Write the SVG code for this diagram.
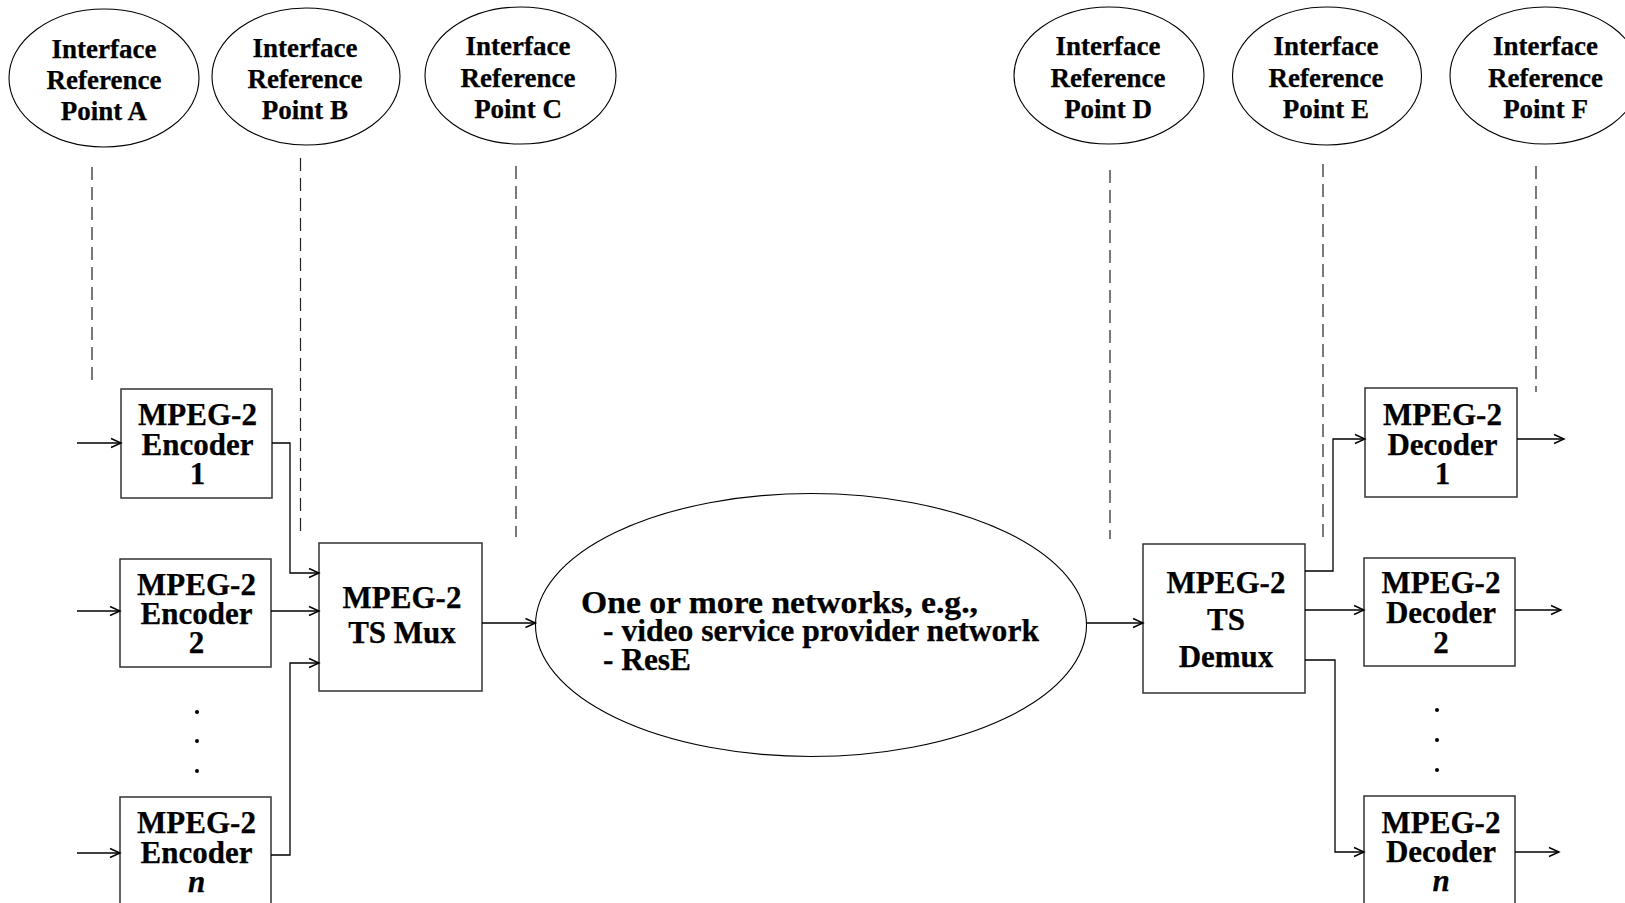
<svg xmlns="http://www.w3.org/2000/svg" width="1625" height="903" viewBox="0 0 1625 903">
  <style>
    text { font-family: "Liberation Serif", "Times New Roman", serif; font-weight: bold; fill: #000; stroke: #000; stroke-width: 0.25; }
    .ref { font-size: 27px; text-anchor: middle; }
    .blk { font-size: 31px; text-anchor: middle; }
    .net { font-size: 31px; }
    .oval { fill: #fff; stroke: #000; stroke-width: 1.1; }
    .box { fill: #fff; stroke: #333; stroke-width: 1.5; }
    .guide { fill: none; stroke: #222; stroke-width: 1.2; stroke-dasharray: 13 7; }
    .arrow { fill: none; stroke: #000; stroke-width: 1.3; marker-end: url(#head); }
    .dot { fill: #000; }
    .it { font-style: italic; }
  </style>
  <defs>
    <marker id="head" markerUnits="userSpaceOnUse" markerWidth="14" markerHeight="12" viewBox="0 0 14 12" refX="12" refY="6" orient="auto">
      <path d="M2,1.5 L12,6 L2,10.5" fill="none" stroke="#000" stroke-width="1.4"/>
    </marker>
  </defs>
  <rect width="1625" height="903" fill="#fff"/>

  <!-- interface reference points -->
  <g id="ref-a">
    <ellipse class="oval" cx="104" cy="78" rx="95" ry="69"/>
    <text class="ref" x="104" y="58">Interface</text>
    <text class="ref" x="104" y="89">Reference</text>
    <text class="ref" x="104" y="120">Point A</text>
  </g>
  <g id="ref-b">
    <ellipse class="oval" cx="306" cy="76.5" rx="94" ry="68.5"/>
    <text class="ref" x="305" y="57">Interface</text>
    <text class="ref" x="305" y="87.5">Reference</text>
    <text class="ref" x="305" y="118.5">Point B</text>
  </g>
  <g id="ref-c">
    <ellipse class="oval" cx="520.5" cy="75.5" rx="95.5" ry="68.5"/>
    <text class="ref" x="518" y="55">Interface</text>
    <text class="ref" x="518" y="86.5">Reference</text>
    <text class="ref" x="518" y="118">Point C</text>
  </g>
  <g id="ref-d">
    <ellipse class="oval" cx="1109" cy="75.5" rx="95" ry="68.5"/>
    <text class="ref" x="1108" y="55">Interface</text>
    <text class="ref" x="1108" y="86.5">Reference</text>
    <text class="ref" x="1108" y="118">Point D</text>
  </g>
  <g id="ref-e">
    <ellipse class="oval" cx="1327" cy="76" rx="94.5" ry="69"/>
    <text class="ref" x="1326" y="55">Interface</text>
    <text class="ref" x="1326" y="86.5">Reference</text>
    <text class="ref" x="1326" y="118">Point E</text>
  </g>
  <g id="ref-f">
    <ellipse class="oval" cx="1545" cy="75.5" rx="95" ry="68.5"/>
    <text class="ref" x="1545.5" y="55">Interface</text>
    <text class="ref" x="1545.5" y="86.5">Reference</text>
    <text class="ref" x="1545.5" y="118">Point F</text>
  </g>

  <!-- encoders -->
  <g id="enc-1">
    <rect class="box" x="121" y="389" width="151" height="109"/>
    <text class="blk" x="197.5" y="425">MPEG-2</text>
    <text class="blk" x="197.5" y="455">Encoder</text>
    <text class="blk" x="197.5" y="484">1</text>
  </g>
  <g id="enc-2">
    <rect class="box" x="120" y="559" width="151" height="108"/>
    <text class="blk" x="196.5" y="595">MPEG-2</text>
    <text class="blk" x="196.5" y="624">Encoder</text>
    <text class="blk" x="196.5" y="653">2</text>
  </g>
  <g id="enc-dots">
    <circle class="dot" cx="197" cy="712" r="2"/>
    <circle class="dot" cx="197" cy="741" r="2"/>
    <circle class="dot" cx="197" cy="771" r="2"/>
  </g>
  <g id="enc-n">
    <rect class="box" x="120" y="797" width="151" height="120"/>
    <text class="blk" x="196.5" y="833">MPEG-2</text>
    <text class="blk" x="196.5" y="863">Encoder</text>
    <text class="blk it" x="196.5" y="892">n</text>
  </g>

  <!-- multiplexer -->
  <g id="ts-mux">
    <rect class="box" x="319" y="543" width="163" height="148"/>
    <text class="blk" x="402" y="608">MPEG-2</text>
    <text class="blk" x="402" y="643">TS Mux</text>
  </g>

  <!-- network cloud -->
  <g id="network">
    <ellipse class="oval" cx="811" cy="625" rx="275.5" ry="131.5"/>
    <text class="net" x="581" y="613" textLength="397" lengthAdjust="spacingAndGlyphs">One or more networks, e.g.,</text>
    <text class="net" x="603" y="641" textLength="436" lengthAdjust="spacingAndGlyphs">- video service provider network</text>
    <text class="net" x="603" y="670" textLength="88" lengthAdjust="spacingAndGlyphs">- ResE</text>
  </g>

  <!-- demultiplexer -->
  <g id="ts-demux">
    <rect class="box" x="1143" y="544" width="162" height="149"/>
    <text class="blk" x="1226" y="593">MPEG-2</text>
    <text class="blk" x="1226" y="630">TS</text>
    <text class="blk" x="1226" y="667">Demux</text>
  </g>

  <!-- decoders -->
  <g id="dec-1">
    <rect class="box" x="1365" y="388" width="152" height="109"/>
    <text class="blk" x="1442.5" y="425">MPEG-2</text>
    <text class="blk" x="1442.5" y="455">Decoder</text>
    <text class="blk" x="1442.5" y="484">1</text>
  </g>
  <g id="dec-2">
    <rect class="box" x="1364" y="558" width="151" height="108"/>
    <text class="blk" x="1441" y="593">MPEG-2</text>
    <text class="blk" x="1441" y="623">Decoder</text>
    <text class="blk" x="1441" y="653">2</text>
  </g>
  <g id="dec-dots">
    <circle class="dot" cx="1437" cy="710" r="2"/>
    <circle class="dot" cx="1437" cy="740" r="2"/>
    <circle class="dot" cx="1437" cy="770" r="2"/>
  </g>
  <g id="dec-n">
    <rect class="box" x="1364" y="796" width="151" height="120"/>
    <text class="blk" x="1441" y="833">MPEG-2</text>
    <text class="blk" x="1441" y="862">Decoder</text>
    <text class="blk it" x="1441" y="891">n</text>
  </g>

  <!-- reference point guides and signal paths -->
  <g id="connectors">
    <line class="guide" x1="92" y1="167" x2="92" y2="386"/>
    <line class="guide" x1="300.5" y1="158" x2="300.5" y2="538"/>
    <line class="guide" x1="516" y1="166" x2="516" y2="537"/>
    <line class="guide" x1="1110" y1="170" x2="1110" y2="539"/>
    <line class="guide" x1="1323" y1="164" x2="1323" y2="541"/>
    <line class="guide" x1="1536" y1="166" x2="1536" y2="392"/>

    <path class="arrow" d="M77,443 H121"/>
    <path class="arrow" d="M77,611 H120"/>
    <path class="arrow" d="M77,853 H120"/>

    <path class="arrow" d="M272,443 H290 V573 H319"/>
    <path class="arrow" d="M271,611 H319"/>
    <path class="arrow" d="M271,855 H290 V663 H319"/>

    <path class="arrow" d="M482,623 H535.5"/>
    <path class="arrow" d="M1087,623 H1143"/>

    <path class="arrow" d="M1305,571 H1333 V439 H1365"/>
    <path class="arrow" d="M1305,610 H1364"/>
    <path class="arrow" d="M1305,660 H1335 V852 H1364"/>

    <path class="arrow" d="M1517,439 H1564"/>
    <path class="arrow" d="M1515,610 H1561"/>
    <path class="arrow" d="M1515,852 H1559"/>
  </g>
</svg>
